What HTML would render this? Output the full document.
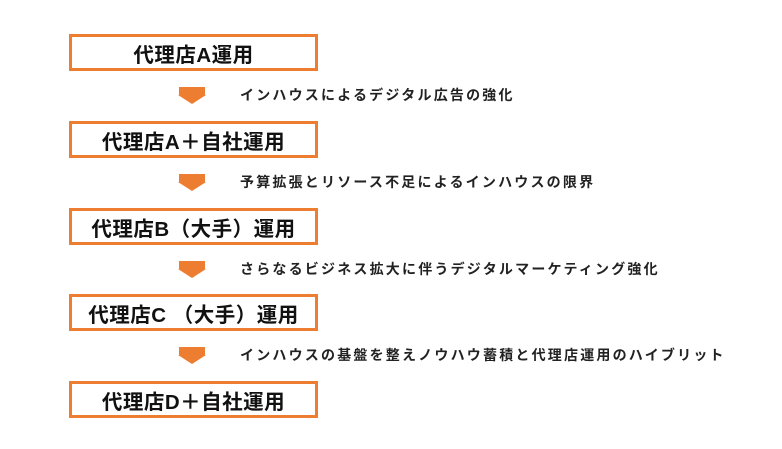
<!DOCTYPE html>
<html><head><meta charset="utf-8"><style>
body{margin:0;width:782px;height:449px;background:#fff;position:relative;overflow:hidden;font-family:"Liberation Sans","Noto Sans CJK JP",sans-serif;}
.b{position:absolute;left:69px;width:243px;height:31px;border:3px solid #ED7D31;display:flex;align-items:center;justify-content:center;font-size:20.5px;font-weight:bold;color:#111;white-space:pre;letter-spacing:0.5px;}
.a{position:absolute;left:178px;width:28px;height:17px;}
.t{position:absolute;left:240px;font-size:14px;font-weight:bold;color:#222;letter-spacing:2.2px;white-space:nowrap;line-height:16px;}
</style></head><body>
<div class="b" style="top:34px">代理店A運用</div>
<div class="b" style="top:121px">代理店A＋自社運用</div>
<div class="b" style="top:208px">代理店B（大手）運用</div>
<div class="b" style="top:294px">代理店C （大手）運用</div>
<div class="b" style="top:381px">代理店D＋自社運用</div>
<svg class="a" style="top:87px" viewBox="0 0 28 17"><path d="M1 0H27V8H28L14 17L0 8H1Z" fill="#ED7D31"/></svg>
<svg class="a" style="top:174px" viewBox="0 0 28 17"><path d="M1 0H27V8H28L14 17L0 8H1Z" fill="#ED7D31"/></svg>
<svg class="a" style="top:261px" viewBox="0 0 28 17"><path d="M1 0H27V8H28L14 17L0 8H1Z" fill="#ED7D31"/></svg>
<svg class="a" style="top:347px" viewBox="0 0 28 17"><path d="M1 0H27V8H28L14 17L0 8H1Z" fill="#ED7D31"/></svg>
<div class="t" style="top:87px">インハウスによるデジタル広告の強化</div>
<div class="t" style="top:174px">予算拡張とリソース不足によるインハウスの限界</div>
<div class="t" style="top:261px">さらなるビジネス拡大に伴うデジタルマーケティング強化</div>
<div class="t" style="top:347px">インハウスの基盤を整えノウハウ蓄積と代理店運用のハイブリット</div>
</body></html>
